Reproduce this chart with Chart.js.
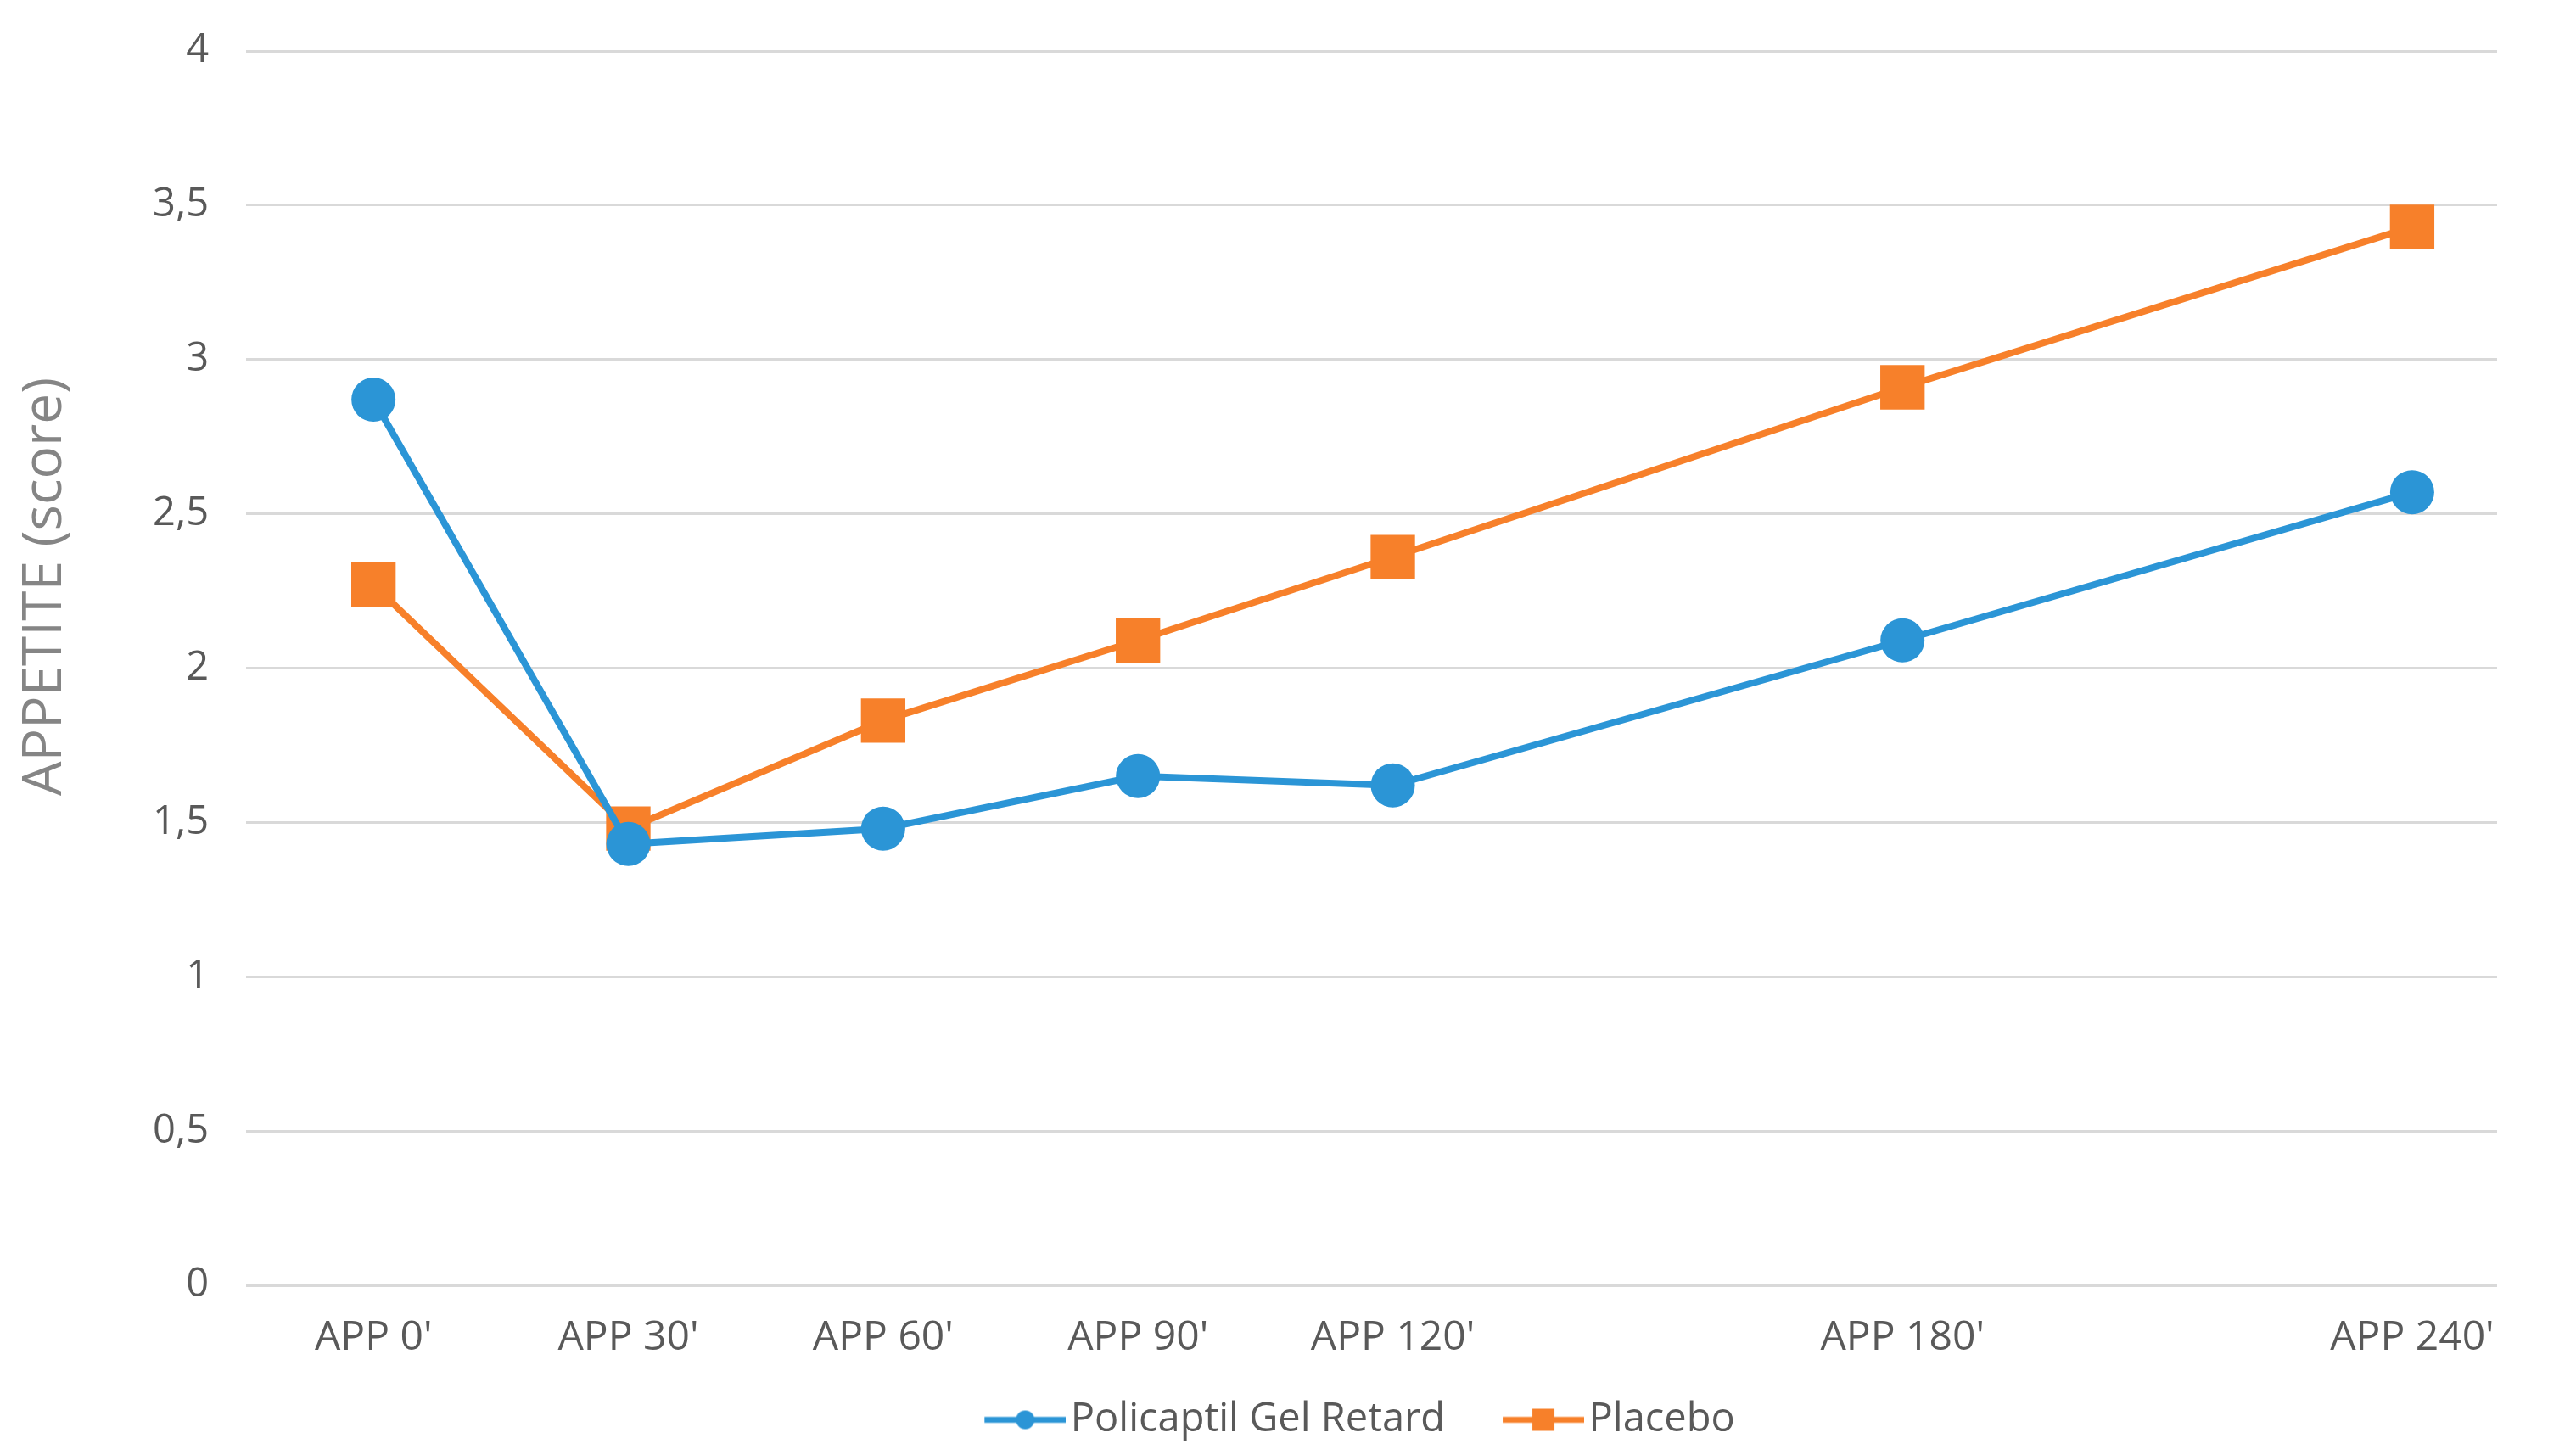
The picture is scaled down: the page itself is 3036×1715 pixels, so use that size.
<!DOCTYPE html>
<html>
<head>
<meta charset="utf-8">
<script src="https://cdn.jsdelivr.net/npm/chart.js@4"></script>
<style>
  html, body { margin: 0; padding: 0; background: #fff; }
  #wrap { width: 3036px; height: 1715px; }
</style>
</head>
<body>
<div id="wrap"><canvas id="chart" width="3036" height="1715"></canvas></div>
<script>
// --- DATA ---
const MINUTES = [0, 30, 60, 90, 120, 180, 240];
const X_LABELS = ["APP 0'", "APP 30'", "APP 60'", "APP 90'", "APP 120'", "APP 180'", "APP 240'"];
const POLICAPTIL = [2.87, 1.43, 1.48, 1.65, 1.62, 2.09, 2.57];
const PLACEBO = [2.27, 1.48, 1.83, 2.09, 2.36, 2.91, 3.43];
const Y_TICKS = [0, 0.5, 1, 1.5, 2, 2.5, 3, 3.5, 4];
const Y_TITLE = 'APPETITE (score)';

const BLUE = '#2b95d6';
const ORANGE = '#f7802a';
const FONT = "'Open Sans', 'Liberation Sans', sans-serif";

// legend marker: short line with the marker on it
// (transparent margin on the left so the icon sits close to its text)
function legendIcon(color, shape) {
  const c = document.createElement('canvas');
  c.width = 152; c.height = 30;
  const g = c.getContext('2d');
  g.strokeStyle = color;
  g.lineWidth = 7;
  g.beginPath(); g.moveTo(56, 15); g.lineTo(152, 15); g.stroke();
  g.fillStyle = color;
  if (shape === 'circle') {
    g.beginPath(); g.arc(104, 15, 11, 0, Math.PI * 2); g.fill();
  } else {
    g.fillRect(91, 2, 26, 26);
  }
  return c;
}

const toPoints = vals => MINUTES.map((m, i) => ({ x: m, y: vals[i] }));

// y title sits a bit above the middle, like the original
const yTitlePlugin = {
  id: 'yTitle',
  afterDraw(chart) {
    const ctx = chart.ctx;
    const area = chart.chartArea;
    ctx.save();
    ctx.translate(54, area.top + (area.bottom - area.top) * 0.434);
    ctx.rotate(-Math.PI / 2);
    ctx.font = "64px " + FONT;
    ctx.fillStyle = '#858585';
    ctx.textAlign = 'center';
    ctx.textBaseline = 'middle';
    ctx.fillText(Y_TITLE, 0, 0);
    ctx.restore();
  }
};

// center the legend under the plot area instead of the whole canvas
const legendShift = {
  id: 'legendShift',
  afterLayout(chart) {
    const lg = chart.legend;
    const area = chart.chartArea;
    const d = (area.left + area.right) / 2 - (lg.left + lg.right) / 2 - 33;
    lg.left += d;
    lg.right += d;
  }
};

new Chart(document.getElementById('chart'), {
  type: 'line',
  data: {
    datasets: [
      {
        label: 'Policaptil Gel Retard',
        data: toPoints(POLICAPTIL),
        borderColor: BLUE,
        backgroundColor: BLUE,
        borderWidth: 8,
        pointStyle: 'circle',
        pointRadius: 26,
        pointBorderWidth: 0,
        legendIcon: legendIcon(BLUE, 'circle')
      },
      {
        label: 'Placebo',
        data: toPoints(PLACEBO),
        borderColor: ORANGE,
        backgroundColor: ORANGE,
        borderWidth: 8,
        pointStyle: 'rect',
        pointRadius: 37,
        pointBorderWidth: 0,
        legendIcon: legendIcon(ORANGE, 'rect')
      }
    ]
  },
  options: {
    responsive: false,
    animation: false,
    layout: { padding: { left: 0, right: 93, top: 60, bottom: 8 } },
    scales: {
      x: {
        type: 'linear',
        min: -15,
        max: 250,
        afterBuildTicks: s => { s.ticks = MINUTES.map(v => ({ value: v })); },
        afterFit: s => { s.height = 105; },
        grid: { display: false, drawTicks: false },
        border: { display: false },
        ticks: {
          padding: 34,
          maxRotation: 0,
          autoSkip: false,
          color: '#595959',
          font: { family: FONT, size: 48 },
          callback: v => X_LABELS[MINUTES.indexOf(v)]
        }
      },
      y: {
        min: 0,
        max: 4,
        afterBuildTicks: s => { s.ticks = Y_TICKS.map(v => ({ value: v })); },
        afterFit: s => { s.width = 290; s.paddingTop = 0; s.paddingBottom = 0; },
        grid: { color: '#d9d9d9', lineWidth: 3, drawTicks: false },
        border: { display: false },
        ticks: {
          padding: 44,
          color: '#595959',
          font: { family: FONT, size: 47 },
          callback: v => String(v).replace('.', ',')
        }
      }
    },
    plugins: {
      legend: {
        position: 'bottom',
        labels: {
          usePointStyle: true,
          pointStyleWidth: 116,
          padding: 30,
          color: '#595959',
          font: { family: FONT, size: 47 },
          generateLabels: chart => chart.data.datasets.map((ds, i) => ({
            text: ds.label,
            pointStyle: ds.legendIcon,
            fillStyle: ds.borderColor,
            strokeStyle: ds.borderColor,
            lineWidth: 0,
            fontColor: '#595959',
            datasetIndex: i,
            hidden: false
          }))
        }
      },
      tooltip: { enabled: false }
    }
  },
  plugins: [yTitlePlugin, legendShift]
});
</script>
</body>
</html>
